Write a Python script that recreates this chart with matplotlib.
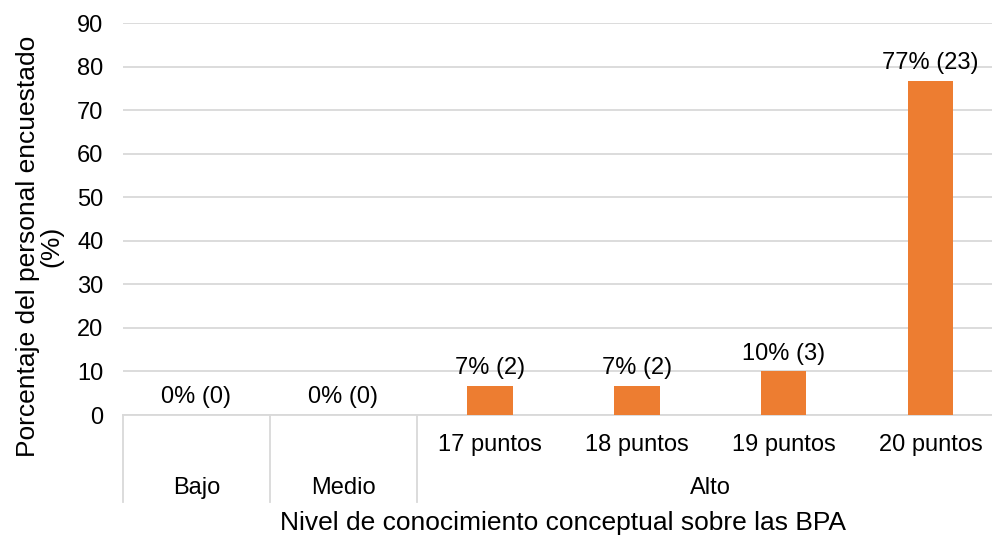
import numpy as np
import matplotlib.pyplot as plt
from matplotlib.transforms import blended_transform_factory

plt.rcParams['font.family'] = ['Liberation Sans', 'DejaVu Sans']

# --- Daten ---
sub_labels = ["", "", "17 puntos", "18 puntos", "19 puntos", "20 puntos"]
groups = ["Bajo", "Medio", "Alto"]
group_spans = [(0, 0), (1, 1), (2, 5)]  # Kategorie-Indizes je Gruppe
pct = [0, 0, 6.67, 6.67, 10, 76.67]
counts = [0, 0, 2, 2, 3, 23]
yticks = [0, 10, 20, 30, 40, 50, 60, 70, 80, 90]

bar_color = "#ED7D31"
grid_color = "#d9d9d9"
fs = 17
fs_title = 19

fig = plt.figure(figsize=(9.92, 5.39), dpi=100)
ax = fig.add_axes([0.124, 0.230, 0.888, 0.727])

x = np.arange(len(pct))
ax.bar(x, pct, width=0.31, color=bar_color, zorder=3)

for xi, p, n in zip(x, pct, counts):
    ax.annotate(f"{round(p)}% ({n})", (xi, p), xytext=(0, 5), textcoords="offset points",
                ha="center", va="bottom", fontsize=fs)

ax.set_xlim(-0.5, len(pct) - 0.5)
ax.set_ylim(0, 90)
ax.set_yticks(yticks)
ax.tick_params(axis="y", length=0, labelsize=fs, pad=14)
ax.set_xticks(x)
ax.set_xticklabels(sub_labels)
ax.tick_params(axis="x", length=0, labelsize=fs, pad=14)
ax.yaxis.grid(True, color=grid_color, linewidth=1.3, zorder=0)

for s in ["left", "right", "top"]:
    ax.spines[s].set_visible(False)
ax.spines["bottom"].set_color(grid_color)
ax.spines["bottom"].set_linewidth(1.3)

# --- Gruppenbeschriftung und Trennlinien ---
trans = blended_transform_factory(ax.transData, ax.transAxes)
for g, (a, b) in zip(groups, group_spans):
    ax.text((a + b) / 2, -0.186, g, transform=trans, ha="center", va="center", fontsize=fs)
    ax.plot([a - 0.5, a - 0.5], [0, -0.222], transform=trans, color=grid_color,
            linewidth=1.3, clip_on=False)

ax.text(0.5, -0.275, "Nivel de conocimiento conceptual sobre las BPA", transform=ax.transAxes,
        ha="center", va="center", fontsize=fs_title)
ax.text(-0.0946, 0.431, "Porcentaje del personal encuestado\n(%)", transform=ax.transAxes,
        ha="center", va="center", rotation=90, fontsize=fs_title, linespacing=0.95)

fig.savefig("out.png", dpi=100)
